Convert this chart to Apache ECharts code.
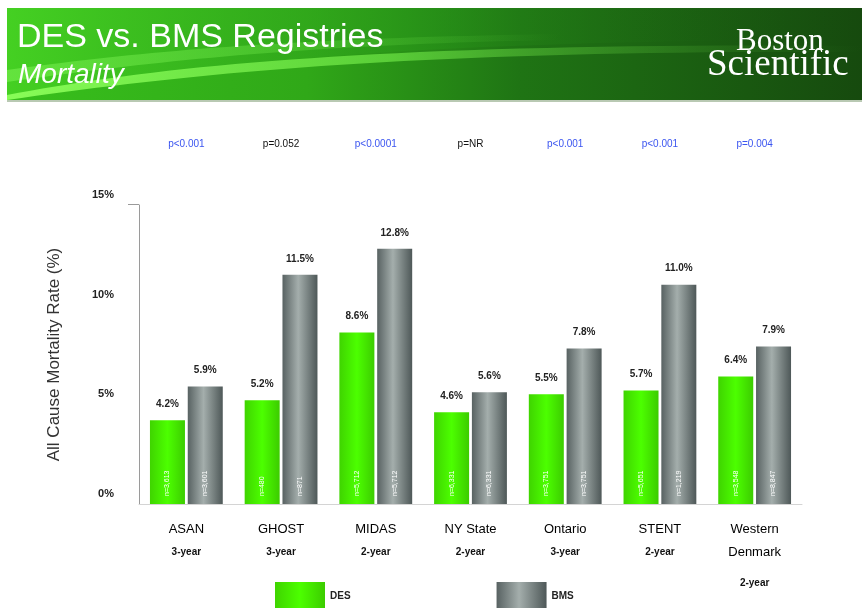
<!DOCTYPE html>
<html><head><meta charset="utf-8">
<script src="https://cdn.jsdelivr.net/npm/echarts@6/dist/echarts.min.js"></script>
<style>html,body{margin:0;padding:0;background:#fff}#c{width:862px;height:608px}</style>
</head><body><div id="c"></div>
<script>
const categories = ['ASAN', 'GHOST', 'MIDAS', 'NY State', 'Ontario', 'STENT', 'Western\nDenmark'];
const followUp = ['3-year', '3-year', '2-year', '2-year', '3-year', '2-year', '2-year'];
const pValues = ['p<0.001', 'p=0.052', 'p<0.0001', 'p=NR', 'p<0.001', 'p<0.001', 'p=0.004'];
const pSignificant = [true, false, true, false, true, true, true];
const desValues = [4.2, 5.2, 8.6, 4.6, 5.5, 5.7, 6.4];
const bmsValues = [5.9, 11.5, 12.8, 5.6, 7.8, 11.0, 7.9];
const desN = ['n=3,613', 'n=480', 'n=5,712', 'n=6,331', 'n=3,751', 'n=5,651', 'n=3,548'];
const bmsN = ['n=3,601', 'n=871', 'n=5,712', 'n=6,331', 'n=3,751', 'n=1,219', 'n=8,847'];
const yTicks = [0, 5, 10, 15];

const narrow = '"Liberation Sans Narrow", "Liberation Sans", Arial, sans-serif';
const sans = '"Liberation Sans", Arial, sans-serif';
const serif = '"Liberation Serif", "DejaVu Serif", serif';
const chart = echarts.init(document.getElementById('c'), null, {renderer: 'canvas'});

const desColor = {type: 'linear', x: 0, y: 0, x2: 1, y2: 0, colorStops: [
  {offset: 0, color: '#3fd400'}, {offset: 0.5, color: '#4cff00'}, {offset: 1, color: '#3ccc00'}]};
const bmsColor = {type: 'linear', x: 0, y: 0, x2: 1, y2: 0, colorStops: [
  {offset: 0, color: '#586262'}, {offset: 0.45, color: '#a4aeac'}, {offset: 1, color: '#4e5858'}]};

// decorative banner swoosh outline: sample cubic bezier curves into polygon points
function cubic(p0, p1, p2, p3, n) {
  const pts = [];
  for (let i = 0; i <= n; i++) {
    const t = i / n, u = 1 - t;
    pts.push([
      u*u*u*p0[0] + 3*u*u*t*p1[0] + 3*u*t*t*p2[0] + t*t*t*p3[0],
      u*u*u*p0[1] + 3*u*u*t*p1[1] + 3*u*t*t*p2[1] + t*t*t*p3[1]
    ]);
  }
  return pts;
}
function band(a, b) { return a.concat(b); }

function nLabel(arr) {
  return {
    show: true, position: 'insideBottom', distance: 8, rotate: 90,
    align: 'left', verticalAlign: 'middle',
    color: '#ffffff', fontSize: 7, fontFamily: narrow,
    formatter: p => arr[p.dataIndex]
  };
}
function topLabel() {
  return {
    show: true, position: 'top', distance: 11, color: '#222',
    fontSize: 10, fontWeight: 'bold', fontFamily: narrow,
    formatter: p => p.value.toFixed(1) + '%'
  };
}

const swoosh1 = band(cubic([7, 100], [150, 70], [350, 40], [862, 40], 40), [[862, 8], [7, 8]]);
const swoosh2 = band(cubic([7, 95], [160, 66], [380, 42], [862, 46], 40), cubic([862, 52], [420, 50], [200, 72], [7, 100], 40));
const swoosh3 = band(cubic([7, 70], [150, 50], [300, 38], [560, 34], 40), cubic([560, 40], [320, 44], [160, 60], [7, 82], 40));

const option = {
  animation: false,
  backgroundColor: '#ffffff',
  grid: {left: 139, right: 60, top: 205, bottom: 104},
  legend: {
    data: ['DES', 'BMS'], left: 270, top: 577, itemWidth: 50, itemHeight: 28, itemGap: 146,
    icon: 'rect', textStyle: {fontSize: 10, fontWeight: 'bold', color: '#222', fontFamily: narrow}
  },
  xAxis: [{
    type: 'category', data: categories,
    axisLine: {show: true, lineStyle: {color: '#d4d4d4', width: 1}},
    axisTick: {show: false},
    axisLabel: {
      interval: 0, margin: 14, color: '#000', fontSize: 13, fontFamily: narrow, lineHeight: 23,
      formatter: (v, i) => v + '\n' + (v.indexOf('\n') >= 0 ? '{y2|' : '{y|') + followUp[i] + '}',
      rich: {
        y: {fontSize: 10, fontWeight: 'bold', lineHeight: 23, color: '#111', fontFamily: narrow},
        y2: {fontSize: 10, fontWeight: 'bold', lineHeight: 38, color: '#111', fontFamily: narrow}
      }
    }
  }, {
    type: 'category', data: pValues, position: 'top',
    axisLine: {show: false}, axisTick: {show: false},
    axisLabel: {
      interval: 0, margin: 56, fontSize: 10, fontFamily: narrow,
      formatter: (v, i) => (pSignificant[i] ? '{b|' : '{k|') + v + '}',
      rich: {b: {color: '#3b55f0', fontSize: 10, fontFamily: narrow}, k: {color: '#111', fontSize: 10, fontFamily: narrow}}
    }
  }, {
    type: 'category', data: categories, show: false
  }],
  yAxis: {
    type: 'value', min: 0, max: 15, interval: 5,
    name: 'All Cause Mortality Rate (%)', nameLocation: 'middle', nameGap: 76,
    nameTextStyle: {fontSize: 17, color: '#333', fontFamily: sans},
    axisLine: {show: true, lineStyle: {color: '#9a9a9a', width: 1}},
    axisTick: {show: false},
    splitLine: {show: false},
    axisLabel: {
      margin: 25, fontSize: 11, fontWeight: 'bold', color: '#222', fontFamily: narrow,
      verticalAlign: 'bottom', lineHeight: 20,
      formatter: v => (yTicks.indexOf(v) >= 0 ? v + '%' : '')
    }
  },
  series: [{
    name: 'DES', type: 'bar', data: desValues, barWidth: 35, barGap: '8%', xAxisIndex: 0,
    itemStyle: {color: desColor}, label: nLabel(desN)
  }, {
    name: 'BMS', type: 'bar', data: bmsValues, barWidth: 35, barGap: '8%', xAxisIndex: 0,
    itemStyle: {color: bmsColor}, label: nLabel(bmsN)
  }, {
    name: 'DES value', type: 'bar', data: desValues, barWidth: 35, barGap: '8%', xAxisIndex: 2,
    silent: true, itemStyle: {color: 'rgba(0,0,0,0)'}, label: topLabel()
  }, {
    name: 'BMS value', type: 'bar', data: bmsValues, barWidth: 35, barGap: '8%', xAxisIndex: 2,
    silent: true, itemStyle: {color: 'rgba(0,0,0,0)'}, label: topLabel()
  }],
  graphic: [
    {type: 'rect', shape: {x: 7, y: 8, width: 855, height: 92}, silent: true,
     style: {fill: {type: 'linear', x: 0, y: 0, x2: 1, y2: 0, colorStops: [
       {offset: 0, color: '#38c01c'}, {offset: 0.35, color: '#30a818'}, {offset: 0.6, color: '#1f7414'}, {offset: 1, color: '#164a0e'}]}}},
    {type: 'polygon', silent: true, shape: {points: swoosh1},
     style: {fill: {type: 'linear', x: 0, y: 0, x2: 1, y2: 0, colorStops: [
       {offset: 0, color: 'rgba(70,210,35,0.9)'}, {offset: 0.5, color: 'rgba(40,150,25,0.5)'}, {offset: 1, color: 'rgba(20,70,15,0)'}]}}},
    {type: 'polygon', silent: true, shape: {points: swoosh2},
     style: {fill: {type: 'linear', x: 0, y: 0, x2: 1, y2: 0, colorStops: [
       {offset: 0, color: 'rgba(140,255,90,0.95)'}, {offset: 0.45, color: 'rgba(110,230,70,0.7)'}, {offset: 1, color: 'rgba(60,140,40,0)'}]}}},
    {type: 'polygon', silent: true, shape: {points: swoosh3},
     style: {fill: {type: 'linear', x: 0, y: 0, x2: 1, y2: 0, colorStops: [
       {offset: 0, color: 'rgba(120,240,80,0.6)'}, {offset: 1, color: 'rgba(120,240,80,0)'}]}}},
    {type: 'rect', silent: true, shape: {x: 7, y: 100, width: 855, height: 2}, style: {fill: '#b9c9b3'}},
    {type: 'text', silent: true, left: 17, top: 21,
     style: {text: 'DES vs. BMS Registries', fill: '#ffffff', fontSize: 34, fontFamily: sans}},
    {type: 'text', silent: true, left: 18, top: 61,
     style: {text: 'Mortality', fill: '#ffffff', fontSize: 28, fontStyle: 'italic', fontFamily: sans}},
    {type: 'text', silent: true, left: 736, top: 26,
     style: {text: 'Boston', fill: '#ffffff', fontSize: 31, fontFamily: serif}},
    {type: 'text', silent: true, left: 707, top: 47,
     style: {text: 'Scientific', fill: '#ffffff', fontSize: 37, fontFamily: serif}},
    {type: 'rect', silent: true, shape: {x: 128, y: 204, width: 11, height: 1}, style: {fill: '#9a9a9a'}}
  ]
};
chart.setOption(option);
</script></body></html>
